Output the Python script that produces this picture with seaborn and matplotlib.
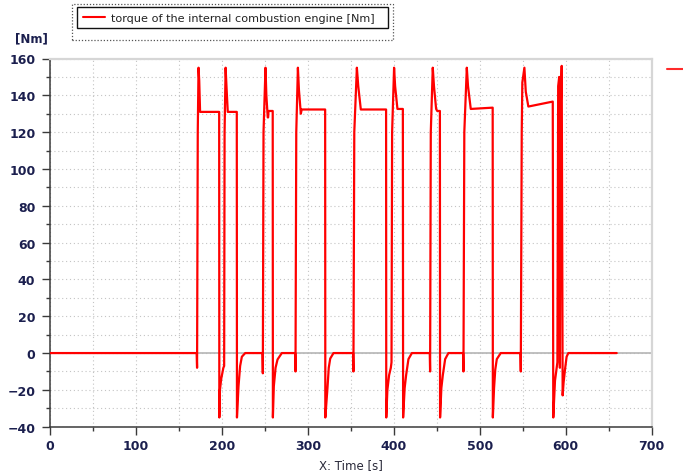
import matplotlib
matplotlib.use("Agg")
import matplotlib.pyplot as plt
from matplotlib.lines import Line2D
from matplotlib.patches import Rectangle
from matplotlib.ticker import MultipleLocator
import pandas as pd
import seaborn as sns

# Engine torque trace: breakpoints (time in s, torque in Nm)
time_s = [
    0, 170.6, 171.1, 171.9, 172.8, 173.6, 174.6, 196.8, 197.0, 197.7, 199.2, 201.7, 202.6,
    203.1, 204.3, 205.3, 206.8, 217.3, 217.5, 219.3, 221.2, 223.2, 227.1,
    247.2, 247.6, 248.4, 250.7, 251.7, 253.3, 253.8, 254.2, 259.1, 259.3, 260.4, 262.4, 264.7, 269.7,
    285.2, 285.6, 286.5, 288.4, 289.6, 291.8, 292.8, 320.1, 320.3, 322.8, 324.3, 326.0, 329.8,
    352.6, 353.0, 354.0, 357.0, 358.6, 361.6, 391.0, 391.2, 392.5, 394.5, 396.5, 397.3,
    398.0, 400.3, 401.5, 404.2, 410.5, 410.8, 412.6, 414.3, 417.0, 421.0,
    441.8, 442.2, 443.0, 445.3, 446.7, 449.2, 450.5, 453.6, 453.8, 455.3, 457.0, 459.7, 463.5,
    480.6, 481.0, 482.0, 484.9, 486.3, 489.5, 515.0, 515.2, 516.6, 518.0, 519.8, 524.4,
    547.3, 547.7, 548.8, 549.5, 551.9, 553.5, 556.5, 584.9, 585.5, 587.5, 590.3,
    591.2, 592.4, 593.2, 594.0, 595.3, 596.4, 597.5, 599.2, 601.0, 603.0, 659.3,
]
torque_nm = [
    0, 0, -8, 120, 155, 148, 131, 131, -35, -20, -14, -8, -7,
    120, 155, 145, 131, 131, -35, -18, -7, -2, 0,
    0, -11, 120, 155, 140, 128, 128, 131.5, 131.5, -35, -18, -8, -3.5, 0,
    0, -10, 120, 155, 143, 130, 132.3, 132.3, -35, -19, -8, -3, 0,
    0, -10, 120, 155, 145, 132.3, 132.3, -35, -20, -12, -8, -5,
    120, 155, 145, 132.6, 132.6, -35, -19, -12, -3.3, 0,
    0, -10, 120, 155, 145, 132.6, 131.5, 131.5, -35, -19, -12, -3.3, 0,
    0, -10, 120, 155, 145, 132.6, 133.3, -35, -19, -9, -3.3, 0,
    0, -10, 120, 147, 155, 142, 133.9, 136.6, -35, -15, -5,
    145, 150, -8, 130, 156, -23, -16, -8.7, -2, 0, 0,
]
series_label = "torque of the internal combustion engine [Nm]"
x_label = "X: Time [s]"
y_unit = "[Nm]"

df = pd.DataFrame({"time": time_s, "torque": torque_nm})

sns.set_theme(style="white")
plt.rcParams["font.family"] = ["DejaVu Sans"]

W, H = 683, 477
fig = plt.figure(figsize=(W / 100, H / 100), dpi=100)
ax = fig.add_axes([50 / W, 1 - 427.7 / H, 601.7 / W, 368.2 / H])

navy = "#1b1f4e"
ax.axhline(0, color="#b5b5b5", lw=1.2, zorder=1)

sns.lineplot(data=df, x="time", y="torque", ax=ax, color="#ff0000", lw=1.6,
             estimator=None, sort=False, label=series_label, zorder=3)

ax.set_xlim(0, 700)
ax.set_ylim(-40, 160)
ax.xaxis.set_major_locator(MultipleLocator(100))
ax.xaxis.set_minor_locator(MultipleLocator(50))
ax.yaxis.set_major_locator(MultipleLocator(20))
ax.yaxis.set_minor_locator(MultipleLocator(10))

ax.grid(True, which="both", color="#c4c4c4", linestyle=(0, (1, 2.5)), lw=0.8, zorder=0)
ax.set_axisbelow(True)

for side in ("left", "bottom"):
    ax.spines[side].set_color("#3a3a3a")
    ax.spines[side].set_linewidth(1.1)
for side in ("top", "right"):
    ax.spines[side].set_color("#d6d6d6")
    ax.spines[side].set_linewidth(1.6)

ax.tick_params(axis="both", which="major", direction="out", length=6, width=1,
               color="#3a3a3a", labelsize=9, labelcolor=navy, pad=3)
ax.tick_params(axis="both", which="minor", direction="out", length=3, width=1,
               color="#3a3a3a")
ax.tick_params(axis="y", which="major", pad=4.5)
ax.tick_params(left=True, bottom=True, which="both")
for lab in ax.get_xticklabels() + ax.get_yticklabels():
    lab.set_fontweight("bold")

ax.set_xlabel("")
ax.set_ylabel("")
fig.text(350.8 / W, 1 - 466 / H, x_label, ha="center", va="center",
         fontsize=8.5, color="#2a2a3a")
fig.text(15 / W, 1 - 39 / H, y_unit, ha="left", va="center",
         fontsize=8.5, fontweight="bold", color=navy)

leg = ax.legend(loc="upper left", bbox_to_anchor=(77 / W, 1 - 34 / H, 311 / W, 26 / H),
                bbox_transform=fig.transFigure, mode="expand", borderaxespad=0,
                frameon=True, fancybox=False, edgecolor="#111111", facecolor="white",
                framealpha=1, fontsize=8.1, handlelength=2.0, handletextpad=0.5,
                borderpad=0.5, labelcolor="#222222")
leg.get_frame().set_linewidth(1.0)
leg.get_lines()[0].set_linewidth(1.5)

fig.patches.append(Rectangle((72 / W, 1 - 41 / H), 321 / W, 36 / H,
                             transform=fig.transFigure, fill=False,
                             edgecolor="#555555", lw=0.9, linestyle=(0, (1, 1.5))))
fig.lines.append(Line2D([667 / W, 1.0], [1 - 70 / H, 1 - 70 / H],
                        transform=fig.transFigure, color="#ff2a2a", lw=1.5))

fig.savefig("out.png", dpi=100)
